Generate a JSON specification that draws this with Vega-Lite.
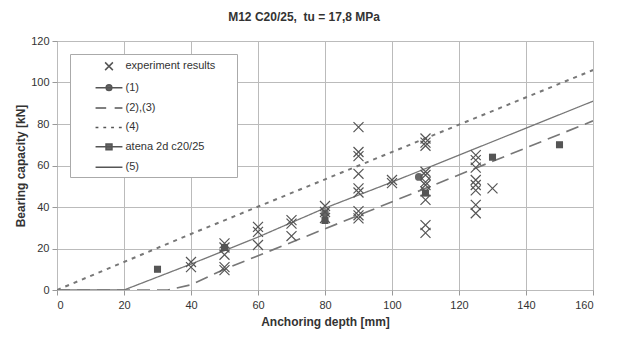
{
  "$schema": "https://vega.github.io/schema/vega-lite/v6.json",
  "width": 536,
  "height": 249,
  "autosize": {"type": "none"},
  "padding": {"left": 57, "top": 41, "right": 27, "bottom": 49},
  "background": "white",
  "title": {"text": "M12 C20/25,\u00a0 tu = 17,8 MPa", "font": "Liberation Sans", "fontSize": 12, "fontWeight": "bold", "color": "#333", "anchor": "middle", "frame": "bounds", "offset": 11},
  "config": {
    "font": "Liberation Sans",
    "view": {"stroke": "#999", "strokeWidth": 1},
    "axis": {"grid": true, "gridColor": "#bbb", "gridWidth": 1, "domain": false, "tickColor": "#999", "tickSize": 5, "labelFont": "Liberation Sans", "labelFontSize": 11, "labelColor": "#333", "titleFont": "Liberation Sans", "titleFontSize": 12, "titleFontWeight": "bold", "titleColor": "#333"},
    "legend": {"labelFont": "Liberation Sans", "labelFontSize": 11, "labelColor": "#333"}
  },
  "datasets": {
    "exp": [
      {"depth": 40, "load": 13.5, "series": "experiment results"},
      {"depth": 40, "load": 11, "series": "experiment results"},
      {"depth": 50, "load": 22.5, "series": "experiment results"},
      {"depth": 50, "load": 20.5, "series": "experiment results"},
      {"depth": 50, "load": 17, "series": "experiment results"},
      {"depth": 50, "load": 11, "series": "experiment results"},
      {"depth": 50, "load": 9.6, "series": "experiment results"},
      {"depth": 60, "load": 30.4, "series": "experiment results"},
      {"depth": 60, "load": 28, "series": "experiment results"},
      {"depth": 60, "load": 21.7, "series": "experiment results"},
      {"depth": 70, "load": 33.7, "series": "experiment results"},
      {"depth": 70, "load": 32, "series": "experiment results"},
      {"depth": 70, "load": 26, "series": "experiment results"},
      {"depth": 80, "load": 40.5, "series": "experiment results"},
      {"depth": 80, "load": 37.6, "series": "experiment results"},
      {"depth": 80, "load": 34.7, "series": "experiment results"},
      {"depth": 90, "load": 78.5, "series": "experiment results"},
      {"depth": 90, "load": 66.5, "series": "experiment results"},
      {"depth": 90, "load": 64.5, "series": "experiment results"},
      {"depth": 90, "load": 56, "series": "experiment results"},
      {"depth": 90, "load": 49, "series": "experiment results"},
      {"depth": 90, "load": 47, "series": "experiment results"},
      {"depth": 90, "load": 38, "series": "experiment results"},
      {"depth": 90, "load": 36, "series": "experiment results"},
      {"depth": 90, "load": 34.5, "series": "experiment results"},
      {"depth": 100, "load": 53, "series": "experiment results"},
      {"depth": 100, "load": 51.5, "series": "experiment results"},
      {"depth": 110, "load": 73, "series": "experiment results"},
      {"depth": 110, "load": 71, "series": "experiment results"},
      {"depth": 110, "load": 69.5, "series": "experiment results"},
      {"depth": 110, "load": 57, "series": "experiment results"},
      {"depth": 110, "load": 55.4, "series": "experiment results"},
      {"depth": 110, "load": 52, "series": "experiment results"},
      {"depth": 110, "load": 50.6, "series": "experiment results"},
      {"depth": 110, "load": 47.5, "series": "experiment results"},
      {"depth": 110, "load": 43.4, "series": "experiment results"},
      {"depth": 110, "load": 31.3, "series": "experiment results"},
      {"depth": 110, "load": 27.5, "series": "experiment results"},
      {"depth": 125, "load": 65, "series": "experiment results"},
      {"depth": 125, "load": 62.6, "series": "experiment results"},
      {"depth": 125, "load": 59, "series": "experiment results"},
      {"depth": 125, "load": 53, "series": "experiment results"},
      {"depth": 125, "load": 50.6, "series": "experiment results"},
      {"depth": 125, "load": 48, "series": "experiment results"},
      {"depth": 125, "load": 41, "series": "experiment results"},
      {"depth": 125, "load": 37, "series": "experiment results"},
      {"depth": 130, "load": 49, "series": "experiment results"}
    ],
    "lines": [
      {"line": "(5)", "depth": 0, "load": 0},
      {"line": "(5)", "depth": 20, "load": 0},
      {"line": "(5)", "depth": 40, "load": 12.5},
      {"line": "(5)", "depth": 60, "load": 25.5},
      {"line": "(5)", "depth": 80, "load": 39.5},
      {"line": "(5)", "depth": 100, "load": 52},
      {"line": "(5)", "depth": 160, "load": 91},
      {"line": "(2),(3)", "depth": 0, "load": 0},
      {"line": "(2),(3)", "depth": 33, "load": 0},
      {"line": "(2),(3)", "depth": 40, "load": 2.5},
      {"line": "(2),(3)", "depth": 50, "load": 10},
      {"line": "(2),(3)", "depth": 160, "load": 81.5},
      {"line": "(4)", "depth": 0, "load": 0},
      {"line": "(4)", "depth": 20, "load": 13.5},
      {"line": "(4)", "depth": 40, "load": 27},
      {"line": "(4)", "depth": 160, "load": 106}
    ],
    "model1": [
      {"depth": 80, "load": 37},
      {"depth": 108, "load": 54.5}
    ],
    "atena": [
      {"depth": 30, "load": 10},
      {"depth": 50, "load": 20.5},
      {"depth": 80, "load": 33.5},
      {"depth": 110, "load": 46.7},
      {"depth": 130, "load": 64},
      {"depth": 150, "load": 70}
    ]
  },
  "layer": [
    {
      "data": {"name": "lines"},
      "mark": {"type": "line", "color": "#777", "clip": true},
      "encoding": {
        "x": {"field": "depth", "type": "quantitative", "scale": {"domain": [0, 160], "nice": false}, "axis": {"values": [0, 20, 40, 60, 80, 100, 120, 140, 160], "title": "Anchoring depth [mm]", "labelPadding": 4, "titlePadding": 6}},
        "y": {"field": "load", "type": "quantitative", "scale": {"domain": [0, 120], "nice": false}, "axis": {"values": [0, 20, 40, 60, 80, 100, 120], "title": "Bearing capacity [kN]", "labelPadding": 3, "titlePadding": 3}},
        "detail": {"field": "line"},
        "strokeDash": {"field": "line", "type": "nominal", "scale": {"domain": ["(5)", "(2),(3)", "(4)"], "range": [[1, 0], [13, 7], [4, 5]]}, "legend": null},
        "strokeWidth": {"field": "line", "type": "nominal", "scale": {"domain": ["(5)", "(2),(3)", "(4)"], "range": [1.3, 2, 2]}, "legend": null}
      }
    },
    {
      "data": {"name": "atena"},
      "mark": {"type": "point", "shape": "square", "filled": true, "color": "#555", "opacity": 1, "size": 50},
      "encoding": {
        "x": {"field": "depth", "type": "quantitative"},
        "y": {"field": "load", "type": "quantitative"}
      }
    },
    {
      "data": {"name": "model1"},
      "mark": {"type": "point", "shape": "circle", "filled": true, "color": "#666", "opacity": 1, "size": 60},
      "encoding": {
        "x": {"field": "depth", "type": "quantitative"},
        "y": {"field": "load", "type": "quantitative"}
      }
    },
    {
      "data": {"name": "exp"},
      "mark": {"type": "point", "filled": false, "stroke": "#555", "opacity": 1, "size": 330, "strokeWidth": 1.2},
      "encoding": {
        "x": {"field": "depth", "type": "quantitative"},
        "y": {"field": "load", "type": "quantitative"},
        "shape": {
          "field": "series", "type": "nominal",
          "scale": {"domain": ["experiment results", "(1)", "(2),(3)", "(4)", "atena 2d c20/25", "(5)"], "range": ["M-0.55,-0.55L0.55,0.55M-0.55,0.55L0.55,-0.55", "M-1.9,0H1.9M0.4,0A0.4,0.4,0,1,1,-0.4,0A0.4,0.4,0,1,1,0.4,0Z", "M-1.9,0H-0.4M0.8,0H1.9", "M-1.9,0H-1.5M-0.8,0H-0.4M0.3,0H0.7M1.4,0H1.8", "M-1.9,0H1.9M-0.42,-0.42H0.42V0.42H-0.42Z", "M-1.9,0H1.9M17,0"]},
          "legend": {
            "title": null,
            "orient": "top-left",
            "offset": 13,
            "padding": 4.25,
            "rowPadding": 6.4,
            "symbolSize": 200,
            "symbolOffset": 26.75,
            "labelOffset": 8.5,
            "fillColor": "white",
            "strokeColor": "#aaa",
            "encode": {"symbols": {"size": {"value": 200}, "opacity": {"value": 1}, "strokeWidth": {"value": 1.3}}}
          }
        },
        "fill": {
          "field": "series", "type": "nominal",
          "scale": {"domain": ["experiment results", "(1)", "(2),(3)", "(4)", "atena 2d c20/25", "(5)"], "range": ["transparent", "#666", "transparent", "transparent", "#666", "transparent"]},
          "legend": {
            "title": null,
            "orient": "top-left",
            "offset": 13,
            "padding": 4.25,
            "rowPadding": 6.4,
            "symbolSize": 200,
            "symbolOffset": 26.75,
            "labelOffset": 8.5,
            "fillColor": "white",
            "strokeColor": "#aaa",
            "encode": {"symbols": {"size": {"value": 200}, "opacity": {"value": 1}, "strokeWidth": {"value": 1.3}}}
          }
        }
      }
    }
  ]
}
